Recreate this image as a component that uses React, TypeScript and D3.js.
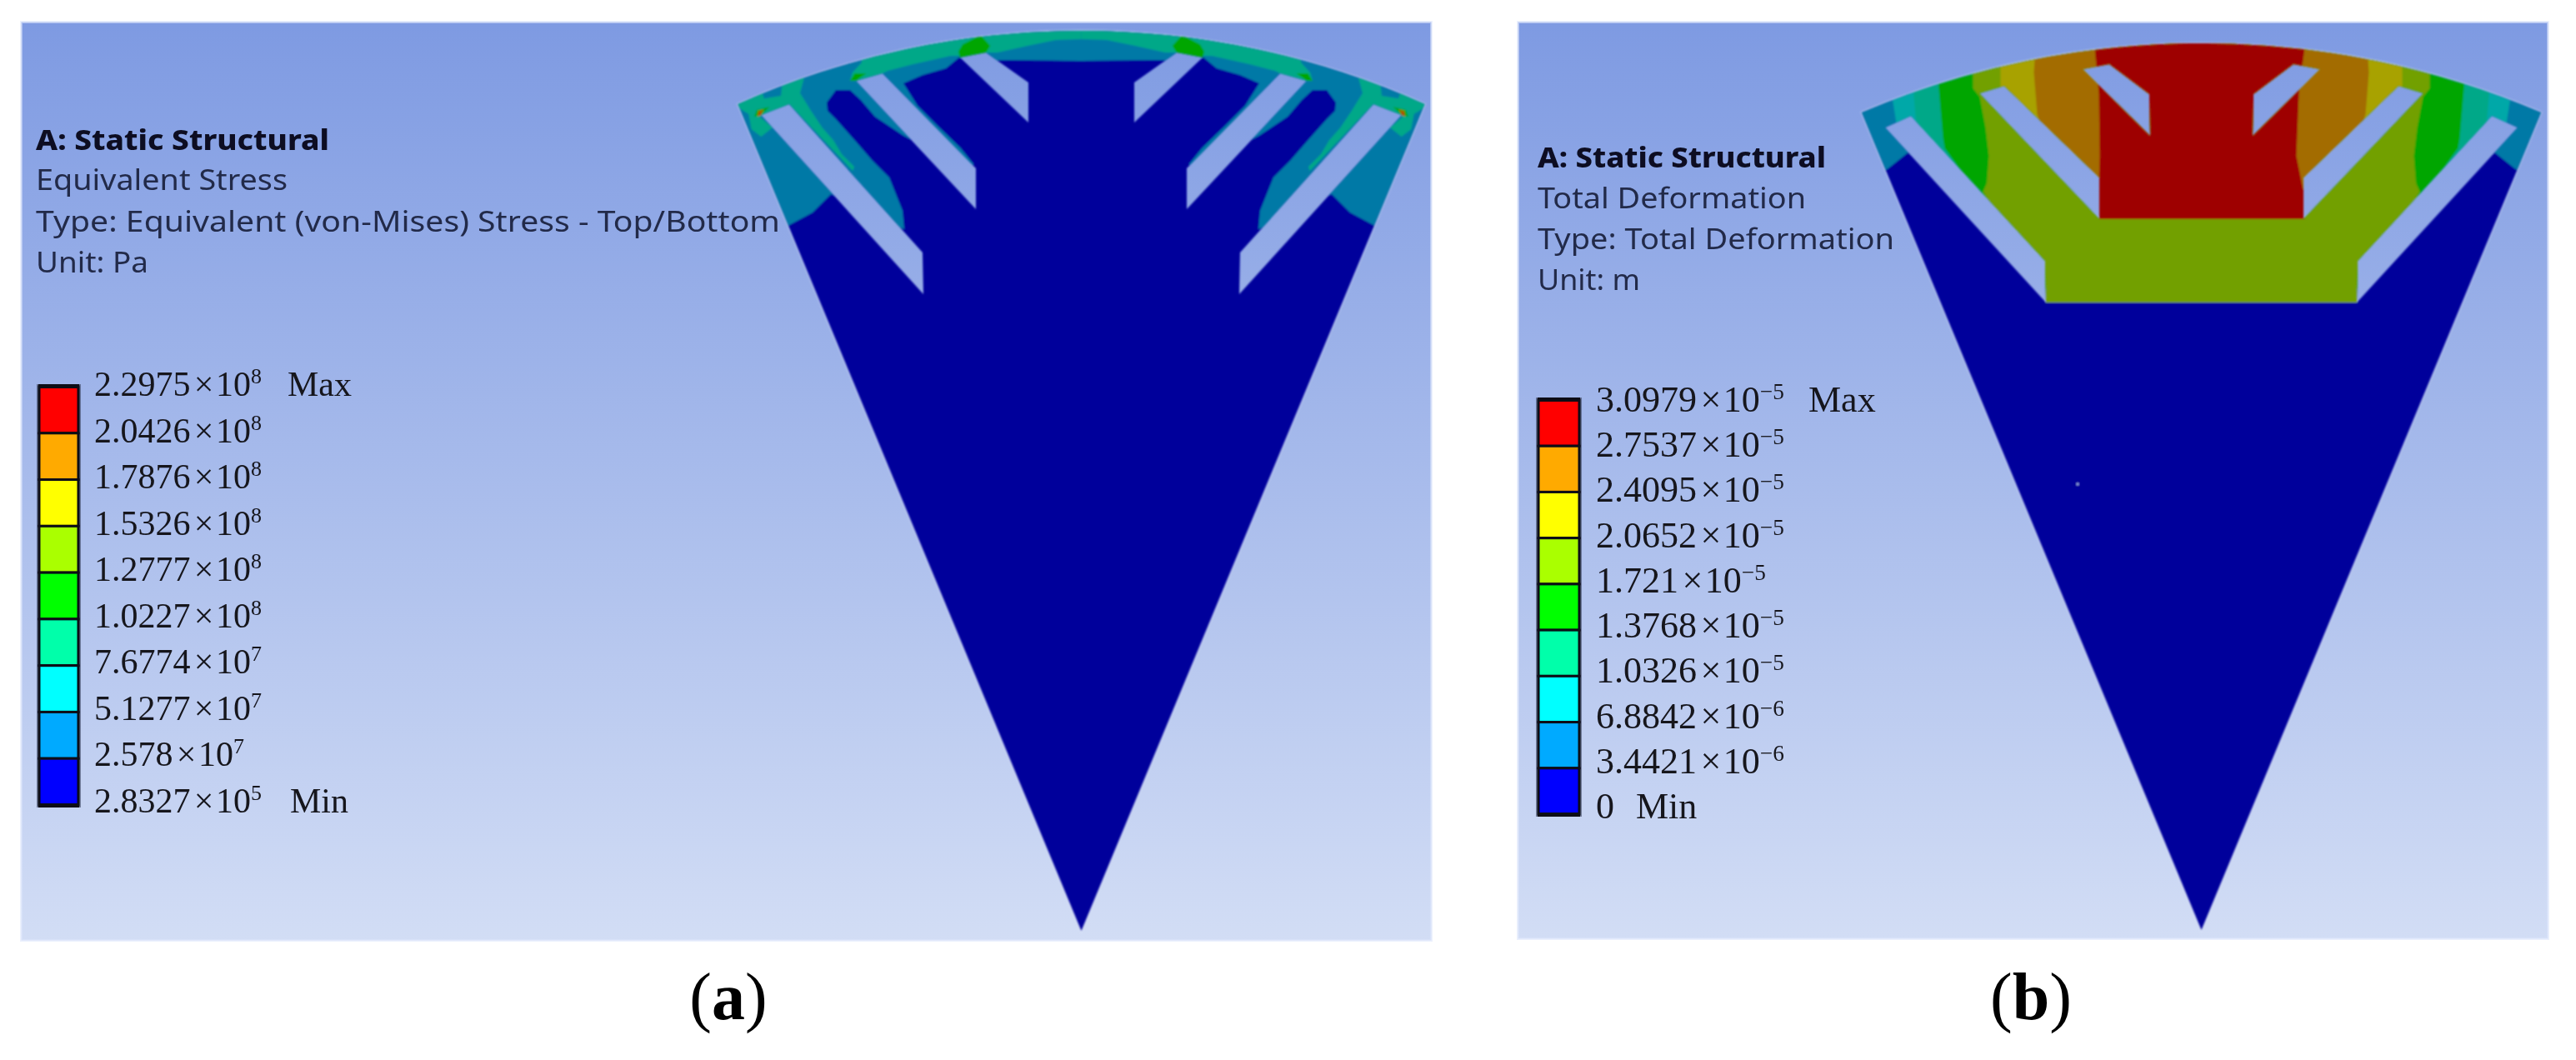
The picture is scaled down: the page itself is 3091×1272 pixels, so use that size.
import React from "react";
import * as d3 from "d3";

type Pt = [number, number];

// Legend colours, top band to bottom band, and the same bands as the darker shaded contour fills
const legendColors = ["#ff0000", "#ffaa00", "#ffff00", "#aaff00", "#00ff00", "#00ffaa", "#00ffff", "#00aaff", "#0000ff"];
const fill = {
  red: "#9e0000", orange: "#a36c00", yellow: "#a8a200", olive: "#72a000", green: "#00a600",
  teal: "#00a888", cyan: "#00a8a8", blue: "#0079a6", navy: "#00009b",
};

// Legend labels [mantissa, exponent]
const labelsA: [string, string][] = [
  ["2.2975", "8"], ["2.0426", "8"], ["1.7876", "8"], ["1.5326", "8"], ["1.2777", "8"],
  ["1.0227", "8"], ["7.6774", "7"], ["5.1277", "7"], ["2.578", "7"], ["2.8327", "5"],
];
const labelsB: [string, string | null][] = [
  ["3.0979", "\u22125"], ["2.7537", "\u22125"], ["2.4095", "\u22125"], ["2.0652", "\u22125"], ["1.721", "\u22125"],
  ["1.3768", "\u22125"], ["1.0326", "\u22125"], ["6.8842", "\u22126"], ["3.4421", "\u22126"], ["0", null],
];
const textA = ["A: Static Structural", "Equivalent Stress", "Type: Equivalent (von-Mises) Stress - Top/Bottom", "Unit: Pa"];
const textB = ["A: Static Structural", "Total Deformation", "Type: Total Deformation", "Unit: m"];

// Model geometry: [offset from centre line, height above apex]; left half, mirrored for the right
const slotsA: Pt[][] = [
  [[-384.5, 979], [-350.5, 992], [-190.5, 814], [-189.5, 764]],
  [[-270.5, 1020], [-238.5, 1029], [-126.5, 915], [-126.5, 866]],
  [[-145.5, 1048], [-114.5, 1054], [-63.5, 1018], [-63.5, 970]],
];
const slotsB: Pt[][] = [
  [[-379.5, 963], [-348.5, 977], [-187.5, 803], [-186.5, 753]],
  [[-266.5, 1004], [-236.5, 1013], [-122.5, 903], [-122.5, 853]],
  [[-142.5, 1033], [-110.5, 1039], [-62.5, 1003], [-61.5, 953]],
];

// Stress contours, panel (a)
const stressBlue: Pt[] = [
  [-450, 1100], [-450, 847], [-350.5, 847], [-322.5, 862], [-300.5, 884], [-212.5, 842], [-214.5, 864], [-230.5, 904],
  [-250.5, 924], [-270.5, 947], [-294.5, 974], [-304.5, 984], [-305.5, 994], [-294.5, 1009], [-277.5, 1009],
  [-264.5, 997], [-247.5, 977], [-214.5, 955], [-194.5, 944], [-128.5, 919], [-145.5, 940], [-173.5, 967],
  [-196.5, 990], [-213.5, 1017], [-190.5, 1027], [-162.5, 1035], [-145.5, 1049], [-100.5, 1045], [-90.5, 1045], [0, 1044],
];
const stressTealSpoke: Pt[] = [
  [-360.8, 998.7], [-359.2, 1013.7], [-330.8, 1030], [-337.5, 1005.3], [-324.2, 983.7], [-310.8, 963.7],
  [-297.5, 948.7], [-287.5, 932], [-272.5, 917], [-274.2, 912], [-350.2, 992],
];
const stressTealCorner: Pt[] = [
  [-420, 996], [-384.2, 1012], [-380.8, 998.7], [-360.8, 1002], [-350.2, 992], [-385.8, 977], [-370.8, 963.7],
  [-384.2, 953], [-395.8, 962], [-399.2, 980.3], [-407.5, 985.3],
];
const stressTealRim: Pt[] = [
  [-277.5, 1020], [-274.5, 1030], [-263.5, 1042], [-263.5, 1100], [0, 1100], [0, 1070], [-30.5, 1069], [-64.5, 1062],
  [-100.5, 1054], [-114.5, 1054], [-145.5, 1050], [-156.5, 1050], [-201.5, 1040], [-232.5, 1032], [-238.5, 1029], [-270.5, 1020],
];
const stressGreenTop: Pt[] = [
  [-147.5, 1055.3], [-142.5, 1063.7], [-120.8, 1075], [-109.2, 1062], [-114.2, 1053.7], [-145.8, 1047.7],
];
const stressGreenSlot: Pt[] = [[-277.5, 1020], [-272, 1029], [-258, 1029], [-270.5, 1020]];
const stressGreenHot: Pt[] = [[-392.5, 977], [-389.2, 985.3], [-374.2, 988.7], [-384.2, 978.7]];
const stressOrangeHot: Pt[] = [[-388.5, 977], [-387.5, 984], [-381, 985.5], [-384.8, 978.7]];
const stressRedHot: Pt[] = [[-387.5, 978], [-386.8, 982], [-384, 983], [-385.5, 979]];

// Deformation bands, panel (b): left boundary of each band, mirrored across the centre line
const defBlue: Pt[] = [[-500, 1100], [-500, 913], [-377, 913], [-352, 933], [-187, 770], [-186.5, 753]];
const defCyan: Pt[] = [[-371, 1100], [-371, 1000], [-366, 968], [-360, 955], [-187, 770], [-186.5, 753]];
const defTeal: Pt[] = [[-345, 1100], [-345, 1000], [-342, 965], [-187, 770], [-186.5, 753]];
const defGreen: Pt[] = [[-316, 1100], [-316, 1020], [-310, 950], [-308, 938], [-187, 770], [-186.5, 753]];
const defOlive: Pt[] = [
  [-274, 1100], [-274, 1010], [-266, 1000], [-259, 963], [-255, 929], [-257.5, 896], [-262, 886], [-187, 770], [-186.5, 753],
];
const defYellow: Pt[] = [[-241, 1100], [-241, 1005], [-122.5, 870], [-122.5, 853]];
const defOrange: Pt[] = [[-200, 1100], [-200, 1044], [-201, 1029], [-197, 979], [-180, 930], [-122.5, 870], [-122.5, 853]];
const defRed: Pt[] = [
  [-128, 1100], [-128, 1058], [-123, 1003], [-122, 929], [-122.8, 903], [-122.8, 853], [124, 853], [124, 879],
  [114, 929], [117, 1003], [120, 1029], [124, 1058], [128, 1100],
];
const defSpeck: Pt = [-148.5, 535];

const FRAME_A = { left: 24, right: 1719, top: 25, bottom: 1130 };
const FRAME_B = { left: 1820, right: 3059, top: 25, bottom: 1128 };
const SECTOR_A = { cx: 1297.5, apex: 1117, rimTop: 1080, cornerDx: 412, cornerH: 992 };
const SECTOR_B = { cx: 2641.5, apex: 1116, rimTop: 1064, cornerDx: 407.5, cornerH: 981 };

const mirrorHalf = (pts: Pt[]): Pt[] => [...pts, ...[...pts].reverse().map(([a, b]) => [-a, b] as Pt)];
const mirrorX = (pts: Pt[]): Pt[] => pts.map(([a, b]) => [-a, b] as Pt);

function scales(s: typeof SECTOR_A) {
  const x = d3.scaleLinear().domain([-500, 500]).range([s.cx - 500, s.cx + 500]);
  const y = d3.scaleLinear().domain([0, 1100]).range([s.apex, s.apex - 1100]);
  const line = d3.line<Pt>().x((d) => x(d[0])).y((d) => y(d[1])).curve(d3.curveLinearClosed);
  const sag = s.rimTop - s.cornerH;
  const r = (s.cornerDx * s.cornerDx + sag * sag) / (2 * sag);
  const theta = Math.atan2(s.cornerDx, s.cornerH - (s.rimTop - r));
  const p = d3.path();
  p.moveTo(x(0), y(0));
  p.arc(x(0), y(s.rimTop - r), r, -Math.PI / 2 - theta, -Math.PI / 2 + theta);
  p.closePath();
  return { x, y, line, outline: p.toString() };
}

function Sector({ id, sector, slots, layers, specks = [] }: {
  id: string; sector: typeof SECTOR_A; slots: Pt[][]; layers: { pts: Pt[]; color: string }[]; specks?: Pt[];
}) {
  const { x, y, line, outline } = scales(sector);
  const holes = slots.flatMap((s) => [line(s) as string, line(mirrorX(s)) as string]).join("");
  return (
    <g>
      <path d={outline} fill="none" stroke="#e4ebfb" strokeWidth={3} opacity={0.35} filter="url(#soft)" />
      <clipPath id={id}>
        <path d={outline + holes} clipRule="evenodd" />
      </clipPath>
      <g filter="url(#soft)">
        <g clipPath={`url(#${id})`}>
          <rect x={x(-500)} y={y(1100)} width={1000} height={1100} fill={fill.navy} />
          {layers.map((l, i) => (
            <path key={i} d={line(l.pts) as string} fill={l.color} />
          ))}
          {specks.map((d, i) => (
            <circle key={i} cx={x(d[0])} cy={y(d[1])} r={1.4} fill="#a9bdf0" />
          ))}
        </g>
      </g>
    </g>
  );
}

function Legend({ x0, x1, top, bottom, labels, labelX, firstBase, lastBase, size, supDy, maxX, minX }: any) {
  const cell = d3.scaleLinear().domain([0, legendColors.length]).range([top, bottom]);
  const base = d3.scaleLinear().domain([0, labels.length - 1]).range([firstBase, lastBase]);
  return (
    <g>
      <g filter="url(#text)">
        <rect x={x0 - 3} y={top - 3} width={x1 - x0 + 6} height={bottom - top + 6} fill="#3b4460" opacity={0.6} />
        {legendColors.map((c: string, i: number) => (
          <rect key={c} x={x0} y={cell(i)} width={x1 - x0} height={cell(i + 1) - cell(i)} fill={c} stroke="#0a0a14" strokeWidth={3} />
        ))}
        <rect x={x0 - 1} y={top - 3} width={x1 - x0 + 2} height={5} fill="#0a0a14" />
        <rect x={x0 - 1} y={bottom - 2} width={x1 - x0 + 2} height={5} fill="#0a0a14" />
      </g>
      <g fontFamily="'Liberation Serif', serif" fill="#15151c" filter="url(#text)">
        {labels.map(([m, e]: [string, string | null], i: number) => (
          <text key={i} x={labelX} y={base(i)} fontSize={size}>
            {e === null ? (
              m
            ) : (
              <>
                {m}
                <tspan dx={size * 0.1}>×</tspan>
                <tspan dx={size * 0.06}>10</tspan>
                <tspan dy={-supDy} fontSize={size * 0.62}>{e}</tspan>
              </>
            )}
          </text>
        ))}
        <text x={maxX} y={firstBase} fontSize={size}>Max</text>
        <text x={minX} y={lastBase} fontSize={size}>Min</text>
      </g>
    </g>
  );
}

function Heading({ lines, x, bases, ends }: { lines: string[]; x: number; bases: number[]; ends: number[] }) {
  return (
    <g fontFamily="'Noto Sans', 'Open Sans', sans-serif" filter="url(#text)">
      {lines.map((t, i) => (
        <text
          key={t + i}
          x={x}
          y={bases[i]}
          fontSize={34}
          fontWeight={i === 0 ? 800 : 400}
          fill={i === 0 ? "#0b0f22" : "#232b4a"}
          textLength={ends[i] - x}
          lengthAdjust="spacingAndGlyphs"
        >
          {t}
        </text>
      ))}
    </g>
  );
}

function Backdrop({ f }: { f: typeof FRAME_A }) {
  return (
    <rect
      x={f.left + 1.5}
      y={f.top + 1.5}
      width={f.right - f.left - 3}
      height={f.bottom - f.top - 3}
      fill="url(#sky)"
      stroke="#dce5fb"
      strokeOpacity={0.55}
      strokeWidth={3}
    />
  );
}

export default function App() {
  const layersA = [
    { pts: mirrorHalf(stressBlue), color: fill.blue },
    ...[stressTealRim, stressTealSpoke, stressTealCorner].flatMap((p) => [
      { pts: p, color: fill.teal },
      { pts: mirrorX(p), color: fill.teal },
    ]),
    ...[stressGreenTop, stressGreenSlot, stressGreenHot].flatMap((p) => [
      { pts: p, color: fill.green },
      { pts: mirrorX(p), color: fill.green },
    ]),
    { pts: stressOrangeHot, color: fill.orange },
    { pts: mirrorX(stressOrangeHot), color: fill.orange },
    { pts: stressRedHot, color: "#c03000" },
    { pts: mirrorX(stressRedHot), color: "#c03000" },
  ];
  const layersB = [
    { pts: mirrorHalf(defBlue), color: fill.blue },
    { pts: mirrorHalf(defCyan), color: fill.cyan },
    { pts: mirrorHalf(defTeal), color: fill.teal },
    { pts: mirrorHalf(defGreen), color: fill.green },
    { pts: mirrorHalf(defOlive), color: fill.olive },
    { pts: mirrorHalf(defYellow), color: fill.yellow },
    { pts: mirrorHalf(defOrange), color: fill.orange },
    { pts: defRed, color: fill.red },
  ];

  return (
    <svg
      width={3091}
      height={1272}
      viewBox="0 0 3091 1272"
      style={{ position: "absolute", left: 0, top: 0, display: "block", background: "#ffffff" }}
    >
      <defs>
        <linearGradient id="sky" x1="0" y1="0" x2="0" y2="1">
          <stop offset="0" stopColor="#7e9ae2" />
          <stop offset="1" stopColor="#d2ddf5" />
        </linearGradient>
        <filter id="soft" x="-5%" y="-5%" width="110%" height="110%">
          <feGaussianBlur stdDeviation="0.9" />
        </filter>
        <filter id="text" x="-5%" y="-10%" width="110%" height="120%">
          <feGaussianBlur stdDeviation="0.55" />
        </filter>
      </defs>

      <Backdrop f={FRAME_A} />
      <Backdrop f={FRAME_B} />

      <Sector id="clipA" sector={SECTOR_A} slots={slotsA} layers={layersA} />
      <Sector id="clipB" sector={SECTOR_B} slots={slotsB} layers={layersB} specks={[defSpeck]} />

      <Heading lines={textA} x={43} bases={[180, 228, 278, 327]} ends={[395, 345, 936, 178]} />
      <Heading lines={textB} x={1845} bases={[201, 250, 299, 348]} ends={[2191, 2167, 2273, 1968]} />

      <Legend
        x0={47} x1={94} top={464} bottom={966} labels={labelsA} labelX={113}
        firstBase={475} lastBase={975} size={42} supDy={15} maxX={345} minX={348}
      />
      <Legend
        x0={1846} x1={1895} top={480} bottom={977} labels={labelsB} labelX={1915}
        firstBase={494} lastBase={982} size={44} supDy={15} maxX={2170} minX={1963}
      />

      <g fontFamily="'Liberation Serif', serif" fill="#000" fontSize={80} textAnchor="middle">
        <text x={874} y={1223}>(<tspan fontWeight={700}>a</tspan>)</text>
        <text x={2437} y={1223}>(<tspan fontWeight={700}>b</tspan>)</text>
      </g>
    </svg>
  );
}
